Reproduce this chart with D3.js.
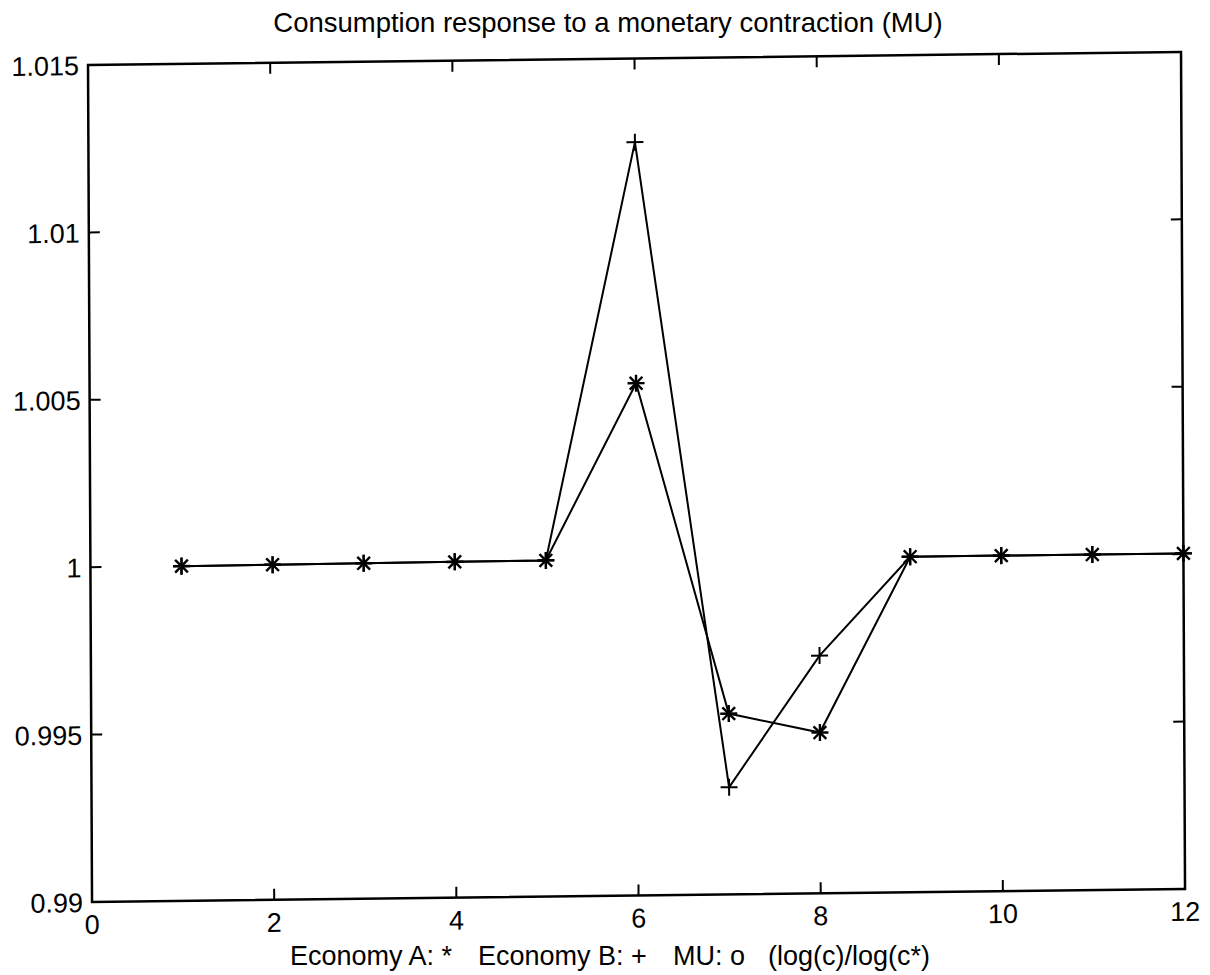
<!DOCTYPE html>
<html>
<head>
    <style>
        body { margin: 0; background: #fff; }
        text { font-family: "Liberation Sans", Arial, sans-serif; fill: #000; }
        .tick-label { font-size: 27px; }
        .title { font-size: 27.5px; }
        .xlabel { font-size: 27px; }
    </style>
    <script src="https://d3js.org/d3.v7.min.js"></script>
</head>
<body>
    <script>
        const periods = [1, 2, 3, 4, 5, 6, 7, 8, 9, 10, 11, 12];
        const economyA = [1.0000, 1.00001, 1.00002, 1.00003, 1.00004, 1.0053, 0.9954, 0.9948, 1.00002, 1.00002, 1.00002, 1.00002];
        const economyB = [1.0000, 1.00001, 1.00002, 1.00003, 1.00004, 1.0125, 0.9932, 0.9971, 1.00002, 1.00002, 1.00002, 1.00002];
        const xTicks = [0, 2, 4, 6, 8, 10, 12];
        const yTicks = [0.99, 0.995, 1, 1.005, 1.01, 1.015];
        const labelParts = ["Economy A: *", "Economy B: +", "MU: o", "(log(c)/log(c*)"];

        const w = 1210;
        const h = 975;
        const plotLeft = 90, plotTop = 65, plotRight = 1183, plotBottom = 902;

        const xScale = d3.scaleLinear().domain([0, 12]).range([plotLeft, plotRight]);
        const yScale = d3.scaleLinear().domain([0.99, 1.015]).range([plotBottom, plotTop]);

        const svg = d3.select("body").append("svg")
            .attr("width", w)
            .attr("height", h);

        // the scanned page is slightly skewed
        const g = svg.append("g")
            .attr("transform", "matrix(1,-0.012,0.0048,1,-2.3,1.1)");

        const tickLen = 11;

        // frame
        g.append("rect")
            .attr("x", plotLeft).attr("y", plotTop)
            .attr("width", plotRight - plotLeft).attr("height", plotBottom - plotTop)
            .attr("fill", "none").attr("stroke", "#000").attr("stroke-width", 2.5);

        // x ticks (bottom and top, inward)
        xTicks.forEach(t => {
            const x = xScale(t);
            g.append("line").attr("x1", x).attr("x2", x).attr("y1", plotBottom).attr("y2", plotBottom - tickLen)
                .attr("stroke", "#000").attr("stroke-width", 2);
            g.append("line").attr("x1", x).attr("x2", x).attr("y1", plotTop).attr("y2", plotTop + tickLen)
                .attr("stroke", "#000").attr("stroke-width", 2);
            g.append("text").attr("class", "tick-label")
                .attr("x", x).attr("y", plotBottom + 32)
                .attr("text-anchor", "middle")
                .text(d3.format("d")(t));
        });

        // y ticks (left and right, inward)
        yTicks.forEach(t => {
            const y = yScale(t);
            g.append("line").attr("x1", plotLeft).attr("x2", plotLeft + tickLen).attr("y1", y).attr("y2", y)
                .attr("stroke", "#000").attr("stroke-width", 2);
            g.append("line").attr("x1", plotRight).attr("x2", plotRight - tickLen).attr("y1", y).attr("y2", y)
                .attr("stroke", "#000").attr("stroke-width", 2);
            g.append("text").attr("class", "tick-label")
                .attr("x", plotLeft - 9).attr("y", y + 10)
                .attr("text-anchor", "end")
                .text(t === 1 ? "1" : String(t));
        });

        const line = d3.line()
            .x((d, i) => xScale(periods[i]))
            .y(d => yScale(d));

        [economyA, economyB].forEach(series => {
            g.append("path")
                .datum(series)
                .attr("d", line)
                .attr("fill", "none")
                .attr("stroke", "#000")
                .attr("stroke-width", 2);
        });

        // markers: '*' for A, '+' for B
        const s = 8.5;
        economyA.forEach((v, i) => {
            const cx = xScale(periods[i]), cy = yScale(v);
            const m = g.append("g").attr("transform", "translate(" + cx + "," + cy + ")")
                .attr("stroke", "#000").attr("stroke-width", 2.4);
            m.append("line").attr("x1", -s).attr("x2", s).attr("y1", 0).attr("y2", 0);
            m.append("line").attr("x1", 0).attr("x2", 0).attr("y1", -s).attr("y2", s);
            m.append("line").attr("x1", -s * 0.75).attr("x2", s * 0.75).attr("y1", -s * 0.75).attr("y2", s * 0.75);
            m.append("line").attr("x1", -s * 0.75).attr("x2", s * 0.75).attr("y1", s * 0.75).attr("y2", -s * 0.75);
        });
        economyB.forEach((v, i) => {
            const cx = xScale(periods[i]), cy = yScale(v);
            const m = g.append("g").attr("transform", "translate(" + cx + "," + cy + ")")
                .attr("stroke", "#000").attr("stroke-width", 2);
            m.append("line").attr("x1", -s).attr("x2", s).attr("y1", 0).attr("y2", 0);
            m.append("line").attr("x1", 0).attr("x2", 0).attr("y1", -s).attr("y2", s);
        });

        svg.append("text").attr("class", "title")
            .attr("x", 608).attr("y", 32)
            .attr("text-anchor", "middle")
            .text("Consumption response to a monetary contraction (MU)");

        // x label, spaced like the original
        const labelX = [290, 478, 673, 768];
        const xl = svg.append("text").attr("class", "xlabel").attr("y", 965);
        labelParts.forEach((p, i) => {
            xl.append("tspan").attr("x", labelX[i]).text(p);
        });
    </script>
</body>
</html>
